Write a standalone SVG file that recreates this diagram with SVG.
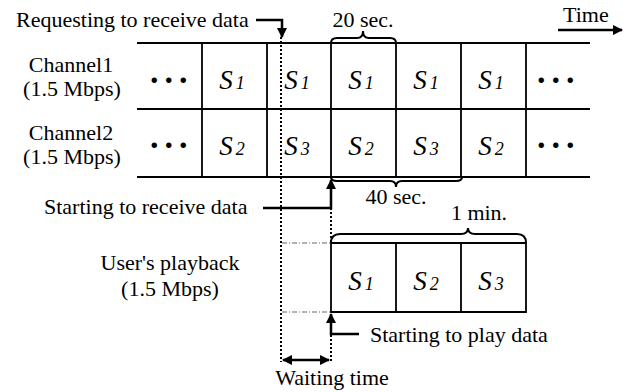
<svg xmlns="http://www.w3.org/2000/svg" width="629" height="392" viewBox="0 0 629 392">
<defs>
<style>
text{font-family:'Liberation Serif','DejaVu Serif',serif;fill:#000}
.lbl{font-size:22px}
.s{font-size:27px;font-style:italic;text-anchor:middle}
.sub{font-size:18px;font-style:italic}
.dots{font-size:34px;font-weight:bold;letter-spacing:6px}
.grid{stroke:#000;stroke-width:1.8;fill:none}
.brace{stroke:#000;stroke-width:2;fill:none}
.dot{stroke:#000;stroke-width:2;stroke-dasharray:2 2;fill:none}
.dashdot{stroke:#666;stroke-width:1.2;stroke-dasharray:5 2 1 2;fill:none}
.arr{stroke:#000;stroke-width:2.5;fill:none}
</style>
<marker id="ah" viewBox="0 0 10 10" refX="9" refY="5" markerWidth="4.2" markerHeight="4.2" orient="auto-start-reverse" markerUnits="strokeWidth">
<path d="M0,0 L10,5 L0,10 z" fill="#000"/>
</marker>
</defs>
<rect width="629" height="392" fill="#fff"/>

<g id="channel1">
<text class="lbl" x="71" y="72" text-anchor="middle">Channel1</text>
<text class="lbl" x="72" y="96" text-anchor="middle">(1.5 Mbps)</text>
</g>
<g id="channel2">
<text class="lbl" x="71" y="140" text-anchor="middle">Channel2</text>
<text class="lbl" x="72" y="164" text-anchor="middle">(1.5 Mbps)</text>
</g>

<g id="grid">
<path class="grid" d="M137,43H590M137,109H590M137,177H590M202,43V177M267,43V177M331,43V177M396,43V177M461,43V177M526,43V177"/>
<text class="dots" x="150" y="83">...</text>
<text class="dots" x="537" y="83">...</text>
<text class="dots" x="150" y="148">...</text>
<text class="dots" x="537" y="148">...</text>
<text class="s" x="232" y="89">S<tspan class="sub" dx="3">1</tspan></text>
<text class="s" x="297" y="89">S<tspan class="sub" dx="3">1</tspan></text>
<text class="s" x="361" y="89">S<tspan class="sub" dx="3">1</tspan></text>
<text class="s" x="426" y="89">S<tspan class="sub" dx="3">1</tspan></text>
<text class="s" x="491" y="89">S<tspan class="sub" dx="3">1</tspan></text>
<text class="s" x="232" y="155">S<tspan class="sub" dx="3">2</tspan></text>
<text class="s" x="297" y="155">S<tspan class="sub" dx="3">3</tspan></text>
<text class="s" x="361" y="155">S<tspan class="sub" dx="3">2</tspan></text>
<text class="s" x="426" y="155">S<tspan class="sub" dx="3">3</tspan></text>
<text class="s" x="491" y="155">S<tspan class="sub" dx="3">2</tspan></text>
</g>

<g id="playback">
<text class="lbl" x="170" y="270" text-anchor="middle">User's playback</text>
<text class="lbl" x="170" y="296" text-anchor="middle">(1.5 Mbps)</text>
<path class="grid" d="M331,243H526V312H331ZM396,243V312M461,243V312"/>
<text class="s" x="361" y="290">S<tspan class="sub" dx="3">1</tspan></text>
<text class="s" x="426" y="290">S<tspan class="sub" dx="3">2</tspan></text>
<text class="s" x="491" y="290">S<tspan class="sub" dx="3">3</tspan></text>
</g>

<g id="braces">
<path class="brace" d="M331,43 Q331,38 337,38 L357,38 Q363,38 363,31 Q363,38 369,38 L390,38 Q396,38 396,43"/>
<text class="lbl" x="363" y="27" text-anchor="middle">20 sec.</text>
<path class="brace" d="M331,177 Q331,181 337,181 L390,181 Q396,181 396,187 Q396,181 402,181 L456,181 Q462,181 462,177"/>
<text class="lbl" x="396" y="204" text-anchor="middle">40 sec.</text>
<path class="brace" d="M331,243 Q331,234 340,234 L461,234 Q468,234 468,228 Q468,234 475,234 L517,234 Q526,234 526,243"/>
<text class="lbl" x="479" y="220" text-anchor="middle">1 min.</text>
</g>

<g id="connectors">
<path class="dot" d="M281,37V362"/>
<path class="dot" d="M331,208V243M331,335V363"/>
<path class="dashdot" d="M282,243H331M282,312H331"/>
<path class="arr" d="M256,20H282V37" marker-end="url(#ah)"/>
<path class="arr" d="M263,208H331V180" marker-end="url(#ah)"/>
<path class="arr" d="M359,334H331V314" marker-end="url(#ah)"/>
<path class="arr" d="M283,360H329" marker-start="url(#ah)" marker-end="url(#ah)"/>
<path class="arr" d="M558,30H622" stroke-width="2" marker-end="url(#ah)"/>
</g>

<g id="labels">
<text class="lbl" x="16" y="27" font-size="21.5">Requesting to receive data</text>
<text class="lbl" x="563" y="22">Time</text>
<text class="lbl" x="44" y="214">Starting to receive data</text>
<text class="lbl" x="370" y="342">Starting to play data</text>
<text class="lbl" x="332" y="385" text-anchor="middle">Waiting time</text>
</g>
</svg>
